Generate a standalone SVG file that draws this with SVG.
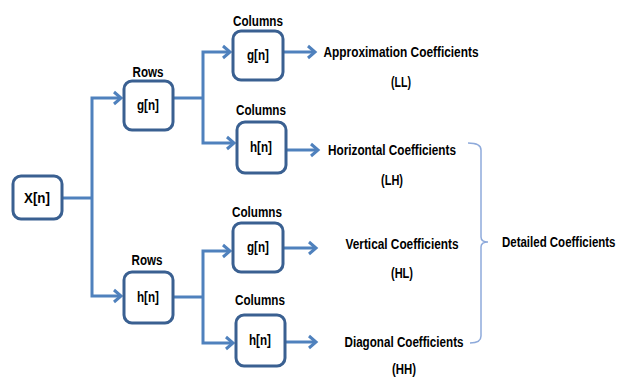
<svg xmlns="http://www.w3.org/2000/svg" width="619" height="377" viewBox="0 0 619 377">
<style>
.box{fill:#fff;stroke:#3a6091;stroke-width:3}
.ln{fill:none;stroke:#4f81bd;stroke-width:3}
.ar{fill:none;stroke:#4f81bd;stroke-width:3;marker-end:url(#arr)}
.t{font-family:"Liberation Sans",Arial,sans-serif;font-weight:bold;font-size:14px;fill:#000}
.m{text-anchor:middle}
</style>
<defs>
<marker id="arr" markerUnits="userSpaceOnUse" markerWidth="16" markerHeight="16" refX="11" refY="8" orient="auto">
<path d="M4 2 L11 8 L4 14" fill="none" stroke="#4f81bd" stroke-width="3"/>
</marker>
</defs>
<rect width="619" height="377" fill="#fff"/>
<g id="connectors">
<path class="ln" d="M62 198 H92"/>
<path class="ar" d="M92 198 V98 H121"/>
<path class="ar" d="M92 198 V296 H121"/>
<path class="ln" d="M173 98 H203"/>
<path class="ar" d="M203 98 V52 H230"/>
<path class="ar" d="M203 98 V143 H234"/>
<path class="ln" d="M173 297 H203"/>
<path class="ar" d="M203 297 V251 H230"/>
<path class="ar" d="M203 297 V343 H233"/>
<path class="ar" d="M283 52 H315"/>
<path class="ar" d="M286 150 H318"/>
<path class="ar" d="M283 248 H316"/>
<path class="ar" d="M285 342 H316"/>
<path d="M468 143 Q481 143 481 150 V237 Q481 242 488 242 Q481 242 481 247 V336 Q481 343 470 343" fill="none" stroke="#8eaadb" stroke-width="1.5"/>
</g>
<g id="xn"><rect class="box" x="13" y="176" width="49" height="43" rx="8"/><text class="t m" x="37" y="203" textLength="26" lengthAdjust="spacingAndGlyphs">X[n]</text></g>
<g id="rows-g"><text class="t m" x="148" y="77" textLength="31" lengthAdjust="spacingAndGlyphs">Rows</text><rect class="box" x="124" y="81" width="49" height="49" rx="8"/><text class="t m" x="148" y="110" textLength="22" lengthAdjust="spacingAndGlyphs">g[n]</text></g>
<g id="rows-h"><text class="t m" x="147" y="265" textLength="31" lengthAdjust="spacingAndGlyphs">Rows</text><rect class="box" x="124" y="272" width="49" height="51" rx="8"/><text class="t m" x="148" y="302" textLength="22" lengthAdjust="spacingAndGlyphs">h[n]</text></g>
<g id="col-gg"><text class="t m" x="258" y="26" textLength="50" lengthAdjust="spacingAndGlyphs">Columns</text><rect class="box" x="233" y="31" width="50" height="49" rx="8"/><text class="t m" x="258" y="60" textLength="22" lengthAdjust="spacingAndGlyphs">g[n]</text></g>
<g id="col-gh"><text class="t m" x="261" y="115" textLength="50" lengthAdjust="spacingAndGlyphs">Columns</text><rect class="box" x="237" y="122" width="49" height="51" rx="8"/><text class="t m" x="261" y="152" textLength="22" lengthAdjust="spacingAndGlyphs">h[n]</text></g>
<g id="col-hg"><text class="t m" x="257" y="217" textLength="50" lengthAdjust="spacingAndGlyphs">Columns</text><rect class="box" x="233" y="223" width="50" height="49" rx="8"/><text class="t m" x="258" y="252" textLength="22" lengthAdjust="spacingAndGlyphs">g[n]</text></g>
<g id="col-hh"><text class="t m" x="260" y="305" textLength="50" lengthAdjust="spacingAndGlyphs">Columns</text><rect class="box" x="236" y="315" width="49" height="51" rx="8"/><text class="t m" x="260" y="345" textLength="22" lengthAdjust="spacingAndGlyphs">h[n]</text></g>
<g id="ll"><text class="t m" x="401" y="57" textLength="155" lengthAdjust="spacingAndGlyphs">Approximation Coefficients</text><text class="t m" x="401" y="87" textLength="20" lengthAdjust="spacingAndGlyphs">(LL)</text></g>
<g id="lh"><text class="t m" x="392" y="155" textLength="128" lengthAdjust="spacingAndGlyphs">Horizontal Coefficients</text><text class="t m" x="392" y="185" textLength="22" lengthAdjust="spacingAndGlyphs">(LH)</text></g>
<g id="hl"><text class="t m" x="402" y="249" textLength="113" lengthAdjust="spacingAndGlyphs">Vertical Coefficients</text><text class="t m" x="402" y="278" textLength="22" lengthAdjust="spacingAndGlyphs">(HL)</text></g>
<g id="hh"><text class="t m" x="404" y="347" textLength="119" lengthAdjust="spacingAndGlyphs">Diagonal Coefficients</text><text class="t m" x="404" y="374" textLength="24" lengthAdjust="spacingAndGlyphs">(HH)</text></g>
<g id="detailed"><text class="t" transform="translate(502 247) scale(0.82 1)" x="0" y="0">Detailed Coefficients</text></g>
</svg>
